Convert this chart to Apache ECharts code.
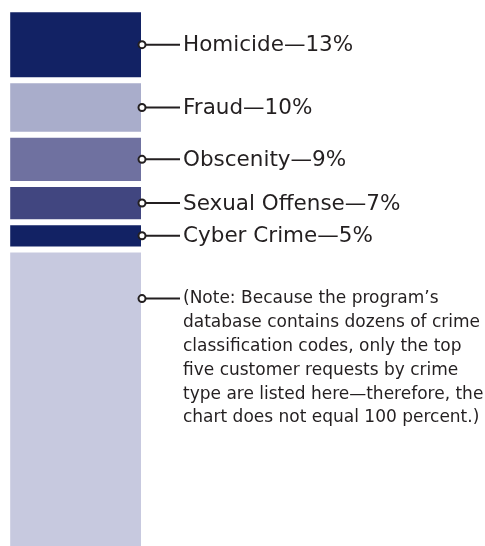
<!DOCTYPE html>
<html>
<head>
<meta charset="utf-8">
<script src="https://cdn.jsdelivr.net/npm/echarts@6/dist/echarts.min.js"></script>
<style>
  html, body { margin: 0; padding: 0; background: #fff; }
  #chart { width: 485px; height: 546px; }
</style>
</head>
<body>
<div id="chart"></div>
<script>
// crime types requested, top five, share of requests in percent
var crimes = ['Homicide', 'Fraud', 'Obscenity', 'Sexual Offense', 'Cyber Crime'];
var shares = [13, 10, 9, 7, 5];
var segColors = ['#122264', '#a9adcb', '#6f71a0', '#414680', '#122264'];
var otherColor = '#c7c9df';
// everything else up to 100 percent
var otherShare = 100 - shares.reduce(function (a, b) { return a + b; }, 0);
var noteAt = 53; // where the note's pointer sits on the bar (percent)
var noteLines = [
  '(Note: Because the program\u2019s',
  'database contains dozens of crime',
  'classification codes, only the top',
  'five customer requests by crime',
  'type are listed here\u2014therefore, the',
  'chart does not equal 100 percent.)'
];

var ink = '#231f20';
var chart = echarts.init(document.getElementById('chart'));

// stacked segments
var series = crimes.map(function (name, i) {
  return {
    name: name,
    type: 'bar',
    stack: 'all',
    barWidth: '100%',
    data: [shares[i]],
    itemStyle: { color: segColors[i], borderColor: '#fff', borderWidth: 3 },
    silent: true
  };
});
series.push({
  name: 'Other',
  type: 'bar',
  stack: 'all',
  barWidth: '100%',
  data: [otherShare],
  itemStyle: { color: otherColor, borderColor: '#fff', borderWidth: 3 },
  silent: true
});

// pointer + label data: [category, start, size, index]
var labelData = [];
var start = 0;
for (var i = 0; i < crimes.length; i++) {
  labelData.push([0, start, shares[i], i]);
  start += shares[i];
}

function pointer(edge, y, children) {
  children.push({
    type: 'line',
    shape: { x1: edge, y1: y, x2: edge + 36, y2: y },
    style: { stroke: ink, lineWidth: 2 }
  });
  children.push({
    type: 'circle',
    shape: { cx: edge - 2, cy: y, r: 3.5 },
    style: { fill: '#fff', stroke: ink, lineWidth: 2 }
  });
}

series.push({
  type: 'custom',
  silent: true,
  z: 10,
  clip: false,
  data: labelData,
  renderItem: function (params, api) {
    var idx = api.value(3);
    var mid = api.coord([api.value(0), api.value(1) + api.value(2) / 2]);
    var edge = mid[0] + api.size([1, 0])[0] / 2;
    var y = mid[1];
    var children = [];
    pointer(edge, y, children);
    children.push({
      type: 'text',
      style: {
        x: edge + 39, y: y + 1,
        text: crimes[idx] + '\u2014' + shares[idx] + '%',
        fill: ink,
        font: '21.5px "DejaVu Sans"',
        verticalAlign: 'middle',
        align: 'left'
      }
    });
    return { type: 'group', children: children };
  }
});

// the note
series.push({
  type: 'custom',
  silent: true,
  z: 10,
  clip: false,
  data: [[0, noteAt]],
  renderItem: function (params, api) {
    var p = api.coord([api.value(0), api.value(1)]);
    var edge = p[0] + api.size([1, 0])[0] / 2;
    var y = p[1];
    var children = [];
    pointer(edge, y, children);
    children.push({
      type: 'text',
      style: {
        x: edge + 39, y: y - 11.5,
        text: noteLines.join('\n'),
        fill: ink,
        font: '17px "DejaVu Sans"',
        lineHeight: 23.8,
        verticalAlign: 'top',
        align: 'left'
      }
    });
    return { type: 'group', children: children };
  }
});

chart.setOption({
  animation: false,
  grid: { left: 7.2, top: 9.2, width: 136.8, height: 546, outerBoundsMode: 'none', containLabel: false },
  xAxis: { type: 'category', data: ['requests'], show: false },
  yAxis: { type: 'value', min: 0, max: 100, inverse: true, show: false },
  series: series
});
</script>
</body>
</html>
